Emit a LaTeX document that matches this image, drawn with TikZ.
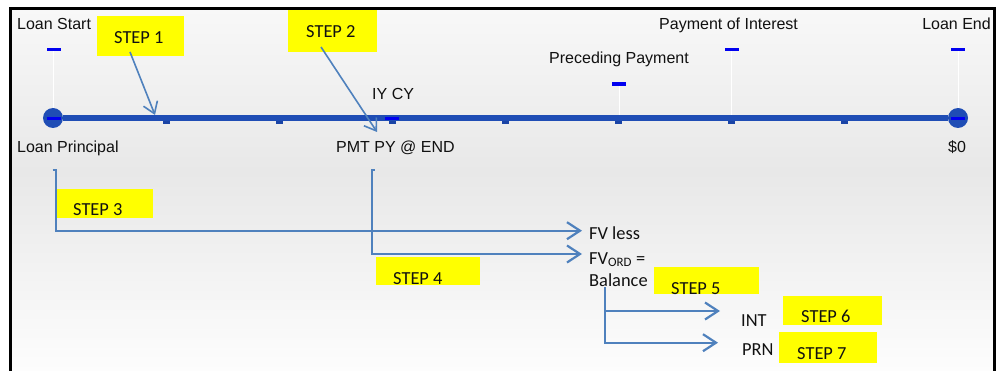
\documentclass[tikz,border=0pt]{standalone}
\usepackage{fontspec}
\setmainfont{Liberation Sans}
\newfontfamily\stepfont{Carlito}
\usetikzlibrary{arrows.meta}
\definecolor{ink}{HTML}{111111}
\definecolor{frameInk}{HTML}{000000}
\definecolor{timelineBlue}{HTML}{1F4DB5}
\definecolor{tickBlue}{HTML}{1A44A6}
\definecolor{markerBlue}{HTML}{0000F0}
\definecolor{flowBlue}{HTML}{4F81BD}
\definecolor{stepYellow}{HTML}{FFFF00}
\definecolor{bgTop}{HTML}{F8F8F8}
\definecolor{bgMid}{HTML}{E8E8E8}
\definecolor{bgBottom}{HTML}{FDFDFD}
\tikzset{
  timeline label/.style={
    font=\fontsize{16}{19}\selectfont,
    text=ink,
    inner sep=0pt,
    anchor=base west
  },
  flow label/.style={
    font=\stepfont\fontsize{18.4}{22}\selectfont,
    text=ink,
    inner sep=0pt,
    anchor=base west
  },
  step box/.style={
    fill=stepYellow,
    inner sep=0pt
  },
  step text/.style={
    flow label
  },
  end dot/.style={
    circle,
    fill=timelineBlue,
    minimum size=20pt,
    inner sep=0pt
  },
  marker dash/.style={
    fill=markerBlue,
    minimum width=14pt,
    minimum height=3.5pt,
    inner sep=0pt
  },
  stem/.style={
    draw=white,
    line width=0.9pt
  },
  flow edge/.style={
    -{Straight Barb[length=13pt,width=17pt]},
    draw=flowBlue,
    line width=2.2pt
  },
  pointer edge/.style={
    -{Straight Barb[length=11pt,width=15pt]},
    draw=flowBlue,
    line width=1.6pt
  }
}
\begin{document}
\begin{tikzpicture}[x=1pt,y=-1pt]
  \useasboundingbox (0,0) rectangle (1000,371);
  % backdrop and frame
  \shade[top color=bgTop,bottom color=bgMid] (10,8) rectangle (994,172);
  \shade[top color=bgMid,bottom color=bgBottom] (10,172) rectangle (994,371);
  \draw[frameInk,line width=2.6pt] (10.3,371) -- (10.3,8.5) -- (994.5,8.5) -- (994.5,371);

  % timeline
  \coordinate (axis) at (0,118);
  \coordinate (start-top) at (53.5,49.5);
  \coordinate (preceding-top) at (619,84);
  \coordinate (interest-top) at (731.5,49.5);
  \coordinate (end-top) at (958,49.5);
  \foreach \m in {start,preceding,interest,end}
    \draw[stem] (\m-top) -- (\m-top |- axis);
  \foreach \k in {1,...,7}
    \fill[tickBlue] ({53+113.1*\k-3.5},119) rectangle ++(7,5.5);
  \node[end dot] (loan-start) at (53,118) {};
  \node[end dot] (loan-end) at (958,118) {};
  \draw[timelineBlue,line width=6.5pt] (loan-start) -- (loan-end);

  \node[marker dash] (start-mark) at (start-top) {};
  \node[marker dash] (preceding-mark) at (preceding-top) {};
  \node[marker dash] (interest-mark) at (interest-top) {};
  \node[marker dash] (end-mark) at (end-top) {};
  \node[marker dash] (start-dot-mark) at (53.5,118.3) {};
  \node[marker dash] (rate-mark) at (392,118.3) {};
  \node[marker dash] (end-dot-mark) at (958,118.3) {};

  % timeline labels
  \node[timeline label] (loan-start-label) at (17,29.3) {Loan Start};
  \node[timeline label] (interest-label) at (659,29.3) {Payment of Interest};
  \node[timeline label,anchor=base east] (loan-end-label) at (991,29.3) {Loan End};
  \node[timeline label] (preceding-label) at (549,63.5) {Preceding Payment};
  \node[timeline label] (rate-label) at (372,99.3) {IY CY};
  \node[timeline label] (principal-label) at (17,152.7) {Loan Principal};
  \node[timeline label] (pmt-label) at (336,152.7) {PMT PY @ END};
  \node[timeline label] (zero-label) at (948,152.7) {\$0};

  % balance breakdown
  \node[flow label] (fv-less) at (589,240) {FV less};
  \node[flow label] (fv-ord) at (589,264) {FV\textsubscript{ORD} =};
  \node[flow label] (balance) at (589,286) {Balance};
  \node[flow label] (int) at (741,326) {INT};
  \node[flow label] (prn) at (742,355) {PRN};

  % step highlights
  \node[step box,minimum width=87pt,minimum height=40pt] (step1-box) at (140.5,36) {};
  \node[step text] (step1) at (114,44) {STEP 1};
  \node[step box,minimum width=89pt,minimum height=42pt] (step2-box) at (332.5,31) {};
  \node[step text] (step2) at (306,37.7) {STEP 2};
  \node[step box,minimum width=96pt,minimum height=29pt] (step3-box) at (105,203.5) {};
  \node[step text] (step3) at (73,216) {STEP 3};
  \node[step box,minimum width=104pt,minimum height=28pt] (step4-box) at (428,271) {};
  \node[step text] (step4) at (393,284) {STEP 4};
  \node[step box,minimum width=105pt,minimum height=27pt] (step5-box) at (706.5,280.5) {};
  \node[step text] (step5) at (671,294) {STEP 5};
  \node[step box,minimum width=99pt,minimum height=29pt] (step6-box) at (832.5,310.5) {};
  \node[step text] (step6) at (801,322) {STEP 6};
  \node[step box,minimum width=98pt,minimum height=31pt] (step7-box) at (828,347.5) {};
  \node[step text] (step7) at (797,359) {STEP 7};

  % connectors
  \coordinate (step1-tail) at (130,52);
  \coordinate (step1-head) at (155,115);
  \coordinate (step2-tail) at (321,47);
  \coordinate (step2-head) at (377,132);
  \draw[pointer edge] (step1-tail) -- (step1-head);
  \draw[pointer edge] (step2-tail) -- (step2-head);

  \coordinate (principal-drop) at (55.7,170);
  \coordinate (pmt-drop) at (371.7,170);
  \coordinate (balance-drop) at (605,287);
  \coordinate (fv-less-in) at (582,230.7);
  \coordinate (fv-ord-in) at (582,254);
  \coordinate (int-in) at (720,311);
  \coordinate (prn-in) at (718,342.7);
  \draw[flow edge] ([xshift=-3pt]principal-drop) -- (principal-drop) |- (fv-less-in);
  \draw[flow edge] ([xshift=3pt]pmt-drop) -- (pmt-drop) |- (fv-ord-in);
  \draw[flow edge] (balance-drop) |- (int-in);
  \draw[flow edge] (balance-drop) |- (prn-in);
\end{tikzpicture}
\end{document}
